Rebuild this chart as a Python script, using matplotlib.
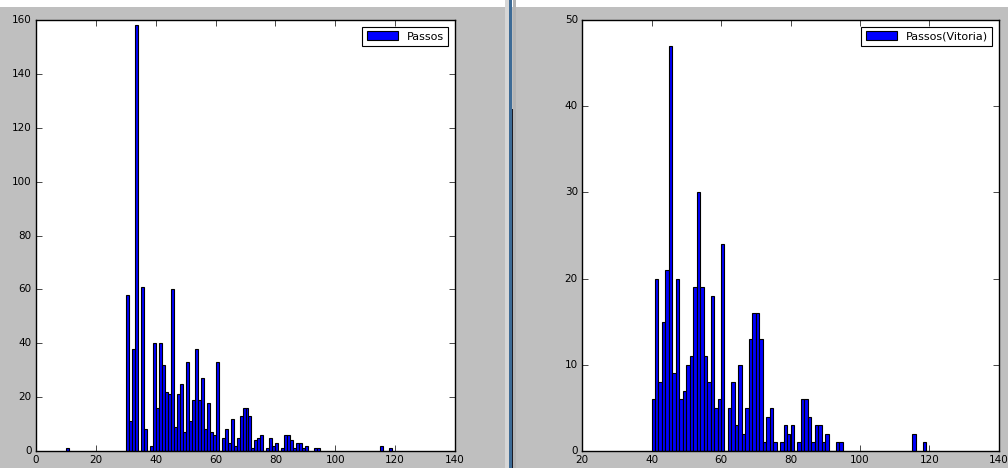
import numpy as np
import matplotlib
matplotlib.use('Agg')
from matplotlib import pyplot as plt
from matplotlib.patches import Rectangle

# contagem por passos (bins de largura 1)
passos_start = 30
passos_counts = [58, 11, 38, 158, 0, 61, 8, 0, 2, 40,
                 16, 40, 32, 22, 21, 60, 9, 21, 25, 7,
                 33, 11, 19, 38, 19, 27, 8, 18, 7, 6,
                 33, 0, 5, 8, 3, 12, 2, 5, 13, 16,
                 16, 13, 1, 4, 5, 6, 0, 1, 5, 2,
                 3, 0, 1, 6, 6, 4, 1, 3, 3, 1,
                 2]
passos_extra_x = [10, 93, 94, 115, 118]
passos_extra_counts = [1, 1, 1, 2, 1]

vitoria_start = 40
vitoria_counts = [6, 20, 8, 15, 21, 47, 9, 20, 6, 7,
                  10, 11, 19, 30, 19, 11, 8, 18, 5, 6,
                  24, 0, 5, 8, 3, 10, 2, 5, 13, 16,
                  16, 13, 1, 4, 5, 1, 0, 1, 3, 2,
                  3, 0, 1, 6, 6, 4, 1, 3, 3, 1,
                  2, 0, 0, 1, 1]
vitoria_extra_x = [115, 118]
vitoria_extra_counts = [2, 1]

plt.style.use('classic')
plt.rcParams['font.family'] = ['DejaVu Sans']
plt.rcParams['font.size'] = 7.5

W, H = 1008, 468
fig = plt.figure(figsize=(W / 100, H / 100), dpi=100, facecolor='#bfbfbf')


def px_axes(x0, y0, x1, y1):
    return fig.add_axes([x0 / W, (H - y1) / H, (x1 - x0) / W, (y1 - y0) / H])


def draw_hist(ax, start, counts, extra_x, extra_counts, label):
    xs = list(range(start, start + len(counts))) + list(extra_x)
    ys = list(counts) + list(extra_counts)
    ax.bar(xs, ys, width=1, align='edge', color='#0000ff',
           edgecolor='black', linewidth=0.8, label=label)
    ax.tick_params(labelsize=7.5, length=4, pad=3)
    leg = ax.legend(loc='upper right', fontsize=8, borderaxespad=0.6,
                    handlelength=2.8, handleheight=0.9)
    leg.get_frame().set_linewidth(0.8)


ax1 = px_axes(36, 20, 455, 451)
draw_hist(ax1, passos_start, passos_counts, passos_extra_x, passos_extra_counts, 'Passos')
ax1.set_xlim(0, 140)
ax1.set_ylim(0, 160)
ax1.set_xticks(np.arange(0, 141, 20))
ax1.set_yticks(np.arange(0, 161, 20))

ax2 = px_axes(582, 20, 999, 451)
draw_hist(ax2, vitoria_start, vitoria_counts, vitoria_extra_x, vitoria_extra_counts, 'Passos(Vitoria)')
ax2.set_xlim(20, 140)
ax2.set_ylim(0, 50)
ax2.set_xticks(np.arange(20, 141, 20))
ax2.set_yticks(np.arange(0, 51, 10))

# bordas das janelas
def px_rect(x0, y0, x1, y1, color):
    fig.add_artist(Rectangle((x0 / W, (H - y1) / H), (x1 - x0) / W, (y1 - y0) / H,
                             transform=fig.transFigure, facecolor=color,
                             edgecolor='none', zorder=0))

px_rect(0, 0, W, 7, 'white')
px_rect(505, 0, 509, H, '#d6d6d6')
px_rect(509, 0, 512, H, '#3d6b96')
px_rect(512, 109, 513, H, '#1b1b24')
px_rect(513, 0, 516, H, '#b4b4b4')

fig.savefig('out.png', dpi=100, facecolor=fig.get_facecolor())
